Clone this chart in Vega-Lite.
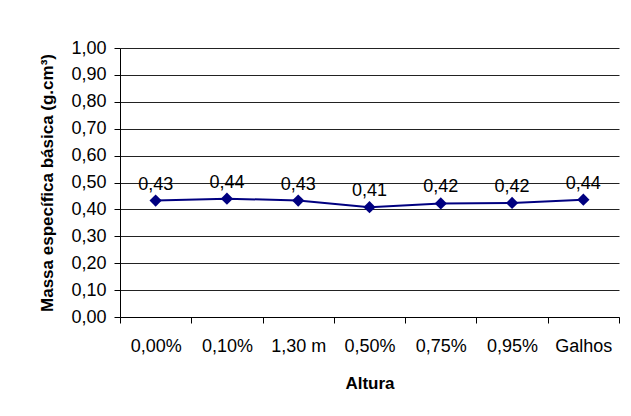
{
  "$schema": "https://vega.github.io/schema/vega-lite/v6.json",
  "autosize": {"type": "none"},
  "width": 499,
  "height": 269,
  "padding": {"left": 120, "top": 48, "right": 12, "bottom": 99},
  "background": "white",
  "config": {
    "locale": {"number": {"decimal": ",", "thousands": ".", "grouping": [3], "currency": ["", ""]}},
    "font": "Liberation Sans",
    "view": {"stroke": null}
  },
  "data": {
    "values": [
      {"altura": "0,00%", "massa": 0.433},
      {"altura": "0,10%", "massa": 0.44},
      {"altura": "1,30 m", "massa": 0.433},
      {"altura": "0,50%", "massa": 0.408},
      {"altura": "0,75%", "massa": 0.422},
      {"altura": "0,95%", "massa": 0.424},
      {"altura": "Galhos", "massa": 0.436}
    ]
  },
  "encoding": {
    "x": {
      "field": "altura", "type": "nominal", "sort": null,
      "scale": {"paddingInner": 0, "paddingOuter": 0},
      "axis": {
        "title": "Altura", "titleFontSize": 17, "titleFontWeight": "bold", "titleColor": "black", "titlePadding": 20,
        "labelAngle": 0, "labelFontSize": 18, "labelColor": "black", "labelPadding": 14,
        "tickBand": "extent", "tickSize": 6, "tickColor": "black", "domainColor": "black", "grid": false
      }
    },
    "y": {
      "field": "massa", "type": "quantitative",
      "scale": {"domain": [0, 1], "nice": false},
      "axis": {
        "title": "Massa específica básica (g.cm³)", "titleFontSize": 17, "titleFontWeight": "bold", "titleColor": "black", "titlePadding": 14,
        "values": [0, 0.1, 0.2, 0.3, 0.4, 0.5, 0.6, 0.7, 0.8, 0.9, 1.0],
        "format": ".2f", "labelFontSize": 18, "labelColor": "black", "labelPadding": 8,
        "tickSize": 6, "tickColor": "black", "domainColor": "black",
        "grid": true, "gridColor": "#222", "gridOpacity": 1
      }
    }
  },
  "layer": [
    {"mark": {"type": "line", "color": "#000080", "strokeWidth": 2}},
    {"mark": {"type": "point", "shape": "diamond", "filled": true, "color": "#000080", "size": 150, "opacity": 1}},
    {"mark": {"type": "text", "fontSize": 18, "color": "black", "baseline": "alphabetic", "dy": -11}, "encoding": {"text": {"field": "massa", "type": "quantitative", "format": ".2f"}}}
  ]
}
